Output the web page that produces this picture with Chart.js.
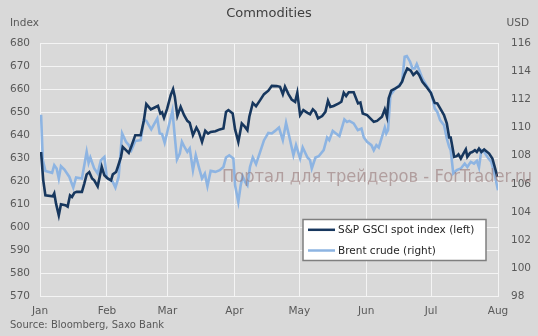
<!DOCTYPE html>
<html>
<head>
<meta charset="utf-8">
<script src="https://cdn.jsdelivr.net/npm/chart.js@4.4.1/dist/chart.umd.min.js"></script>
<style>
html,body{margin:0;padding:0;background:#d9d9d9;}
canvas{display:block;}
</style>
</head>
<body>
<canvas id="c" width="538" height="336"></canvas>
<script>
// ---- Data (days counted from 1 Jan) ----
const monthDays = [0, 31, 59, 90, 120, 151, 181, 212];
const monthLabels = ['Jan', 'Feb', 'Mar', 'Apr', 'May', 'Jun', 'Jul', 'Aug'];

const gsciDays = [0.5,1.5,2.5,5.9,6.6,7.4,8.7,9.7,11.7,12.8,13.9,14.8,15.9,17.0,19.4,20.5,21.6,22.8,24.1,25.1,26.7,28.6,29.8,31.3,32.9,33.7,35.2,36.0,37.5,38.3,39.8,41.1,42.3,44.1,46.6,48.1,49.2,51.3,53.1,54.6,55.7,56.5,57.4,58.9,60.5,61.6,62.4,63.6,65.1,66.7,68.2,69.3,70.8,72.4,73.5,75.0,76.5,77.8,79.0,81.2,83.2,84.9,86.1,87.2,89.2,90.3,91.8,93.4,94.9,96.0,96.9,98.5,100.0,101.9,103.7,105.7,107.3,109.6,111.1,112.4,113.4,115.0,116.5,118.1,119.1,120.4,121.9,123.8,125.0,126.3,127.5,128.7,130.6,132.1,133.3,134.4,135.9,138.3,139.5,140.6,141.7,142.9,145.2,147.2,148.3,149.4,151.4,152.9,154.5,156.0,158.3,159.6,160.6,161.4,162.6,164.5,166.3,167.6,168.8,170.0,171.6,172.8,174.4,175.5,177.0,178.6,180.9,182.7,183.9,185.5,187.0,188.3,189.4,190.1,190.9,191.7,192.9,193.7,194.8,196.0,197.1,197.8,199.1,200.1,201.3,202.2,203.2,204.3,205.6,207.9,209.4,210.5,211.7];
const gsciValues = [632.7,620.4,613.9,613.5,614.8,610.4,605.2,610.0,609.6,609.0,613.9,613.2,615.0,615.4,615.4,619.0,623.0,624.0,621.2,620.4,617.8,626.2,622.6,621.2,620.4,623.0,624.0,626.2,630.6,634.9,633.5,632.3,635.2,640.0,640.0,646.5,653.5,651.2,652.0,652.7,649.4,649.9,647.5,651.6,657.4,660.0,656.7,648.4,652.3,648.7,646.2,645.4,640.0,643.3,641.4,637.1,641.9,640.7,641.4,641.7,642.5,642.9,650.1,650.9,649.4,642.5,637.1,645.1,643.6,642.2,648.0,654.0,652.6,655.2,657.8,659.3,661.4,661.3,661.0,657.8,661.0,657.8,655.5,654.5,658.4,648.7,650.9,649.7,649.1,651.2,650.1,647.3,648.3,650.1,654.9,652.3,652.7,653.8,654.5,658.4,657.0,658.6,658.6,653.8,654.2,649.4,648.7,647.3,645.8,646.2,648.0,651.2,648.0,656.0,659.3,660.3,661.3,663.2,666.5,669.0,668.0,666.1,667.5,666.1,663.2,661.3,658.4,654.0,653.8,651.2,648.7,645.1,639.0,639.0,634.9,630.6,630.9,631.7,629.9,632.0,633.8,630.6,632.3,632.7,633.5,632.7,634.2,632.7,633.8,632.0,629.9,626.2,621.9];

const brentDays = [0.5,1.3,2.5,5.6,6.6,7.7,8.7,9.7,11.3,13.6,15.4,16.7,19.4,21.6,22.5,23.3,25.1,26.7,28.2,29.8,30.9,33.7,34.9,36.4,38.0,39.8,41.1,42.3,44.1,46.6,48.1,49.2,51.5,54.3,55.4,56.5,57.7,59.3,61.3,62.4,63.4,64.7,65.7,67.0,68.2,69.3,70.8,72.1,73.5,75.0,76.3,77.5,79.0,81.2,83.2,84.9,86.1,87.6,89.5,90.3,91.8,92.9,93.8,94.9,96.0,97.2,98.5,100.0,101.9,103.7,105.7,107.3,108.8,110.6,112.4,113.9,115.4,117.3,118.5,120.4,121.6,123.8,125.0,125.8,127.5,129.0,131.3,132.9,133.9,135.5,137.0,138.6,140.9,142.1,143.2,145.2,147.1,148.8,149.9,151.4,153.4,154.5,155.7,156.8,158.3,159.6,160.3,161.1,162.2,164.2,166.3,167.6,168.8,169.8,171.3,172.4,173.5,174.4,175.5,177.0,179.3,181.2,182.7,183.9,185.2,187.0,188.3,189.4,190.1,191.3,192.9,194.8,196.6,197.8,199.4,200.9,202.2,203.2,204.3,205.6,207.1,208.9,210.5,212.0];
const brentValues = [110.9,107.68,106.92,106.78,107.32,107.09,106.38,107.25,107.01,106.49,105.74,106.45,106.38,108.27,107.49,107.87,107.09,106.73,107.68,107.91,106.45,106.14,105.74,106.49,109.58,108.98,108.75,108.39,109.05,109.1,110.52,110.47,109.86,110.64,109.58,109.53,108.91,109.93,111.19,109.34,107.73,108.15,108.98,108.58,108.27,108.51,106.97,108.03,107.2,106.38,106.73,105.83,106.92,106.85,106.97,107.2,107.87,108.03,107.8,105.9,104.71,105.9,106.54,106.14,105.9,107.2,107.87,107.4,108.27,109.1,109.62,109.58,109.76,110.0,109.1,110.33,109.34,108.03,108.75,107.8,108.58,107.87,107.68,107.09,107.87,107.96,108.39,109.29,109.1,109.76,109.58,109.39,110.57,110.4,110.47,110.29,109.81,109.93,109.29,108.98,108.75,108.39,108.75,108.58,109.34,110.0,109.58,109.81,112.3,112.71,113.01,113.25,115.03,115.08,114.67,114.2,114.2,114.5,114.08,113.49,112.89,112.42,111.36,111.11,110.52,110.17,109.22,108.63,108.39,106.73,106.97,107.09,107.44,107.2,107.56,107.44,107.63,107.16,108.39,108.27,107.91,107.56,106.61,105.54];

const seriesNames = ['S&P GSCI spot index (left)', 'Brent crude (right)'];
const titleText = 'Commodities';
const leftUnit = 'Index';
const rightUnit = 'USD';
const sourceText = 'Source: Bloomberg, Saxo Bank';
const watermarkText = 'Портал для трейдеров - ForTrader.ru';

const FONT = 'DejaVu Sans';
const TEXT = '#595959';

const toXY = (xs, ys) => xs.map((x, i) => ({ x: x, y: ys[i] }));

const decor = {
  id: 'decor',
  beforeDraw(chart) {
    const ctx = chart.ctx;
    ctx.save();
    ctx.fillStyle = '#d9d9d9';
    ctx.fillRect(0, 0, chart.width, chart.height);
    ctx.restore();
  },
  afterDatasetsDraw(chart) {
    const ctx = chart.ctx;
    ctx.save();
    // watermark
    ctx.font = '17px "' + FONT + '"';
    ctx.textBaseline = 'middle';
    ctx.textAlign = 'left';
    const w = ctx.measureText(watermarkText).width;
    const target = 310;
    ctx.translate(222, 178);
    ctx.scale(target / w, 1);
    ctx.fillStyle = 'rgba(150,118,118,0.6)';
    ctx.fillText(watermarkText, 0, 0);
    ctx.restore();

    ctx.save();
    // legend box
    const bx = 303, by = 219.5, bw = 183, bh = 41;
    ctx.fillStyle = '#ffffff';
    ctx.fillRect(bx, by, bw, bh);
    ctx.strokeStyle = '#7f7f7f';
    ctx.lineWidth = 1.5;
    ctx.strokeRect(bx, by, bw, bh);
    ctx.font = '10.5px "' + FONT + '"';
    ctx.textBaseline = 'middle';
    ctx.textAlign = 'left';
    const rows = [229.8, 250.5];
    chart.data.datasets.forEach((ds, i) => {
      ctx.strokeStyle = ds.borderColor;
      ctx.lineWidth = 2.5;
      ctx.beginPath();
      ctx.moveTo(308, rows[i]);
      ctx.lineTo(335, rows[i]);
      ctx.stroke();
      ctx.fillStyle = '#262626';
      ctx.fillText(ds.label, 338, rows[i] + 0.5);
    });
    ctx.restore();
  },
  afterDraw(chart) {
    const ctx = chart.ctx;
    ctx.save();
    ctx.textBaseline = 'middle';
    ctx.fillStyle = '#404040';
    ctx.font = '13px "' + FONT + '"';
    ctx.textAlign = 'center';
    ctx.fillText(titleText, 269, 13.5);
    ctx.fillStyle = TEXT;
    ctx.font = '10.5px "' + FONT + '"';
    ctx.textAlign = 'left';
    ctx.fillText(leftUnit, 10, 23.5);
    ctx.textAlign = 'right';
    ctx.fillText(rightUnit, 529, 23.5);
    ctx.textAlign = 'left';
    ctx.font = '10px "' + FONT + '"';
    ctx.fillText(sourceText, 10, 325.5);
    ctx.restore();
  }
};

new Chart(document.getElementById('c'), {
  type: 'line',
  data: {
    datasets: [
      {
        label: seriesNames[0],
        data: toXY(gsciDays, gsciValues),
        yAxisID: 'yL',
        borderColor: '#17375e',
        borderWidth: 2.6,
        pointRadius: 0,
        tension: 0,
        fill: false
      },
      {
        label: seriesNames[1],
        data: toXY(brentDays, brentValues),
        yAxisID: 'yR',
        borderColor: '#8db4e2',
        borderWidth: 2.6,
        pointRadius: 0,
        tension: 0,
        fill: false
      }
    ]
  },
  options: {
    responsive: false,
    animation: false,
    devicePixelRatio: 1,
    layout: { padding: { top: 43, left: 0, right: 0, bottom: 0 } },
    plugins: { legend: { display: false }, tooltip: { enabled: false }, title: { display: false } },
    scales: {
      x: {
        type: 'linear',
        min: monthDays[0],
        max: monthDays[monthDays.length - 1],
        afterBuildTicks: (s) => { s.ticks = monthDays.map(v => ({ value: v })); },
        afterFit: (s) => { s.height = 39.5; },
        grid: { color: '#f4f4f4', lineWidth: 1, drawTicks: false },
        border: { display: false },
        ticks: {
          autoSkip: false,
          maxRotation: 0,
          padding: 8,
          color: TEXT,
          font: { family: FONT, size: 10.5 },
          callback: (v, i) => monthLabels[i]
        }
      },
      yL: {
        position: 'left',
        min: 570,
        max: 680,
        afterFit: (s) => { s.width = 40; },
        grid: { color: '#f4f4f4', lineWidth: 1, drawTicks: false },
        border: { display: false },
        ticks: { stepSize: 10, padding: 10, color: TEXT, font: { family: FONT, size: 10.5 } }
      },
      yR: {
        position: 'right',
        min: 98,
        max: 116,
        afterFit: (s) => { s.width = 40; },
        grid: { display: false, drawTicks: false },
        border: { display: false },
        ticks: { stepSize: 2, padding: 13, color: TEXT, font: { family: FONT, size: 10.5 } }
      }
    }
  },
  plugins: [decor]
});
</script>
</body>
</html>
